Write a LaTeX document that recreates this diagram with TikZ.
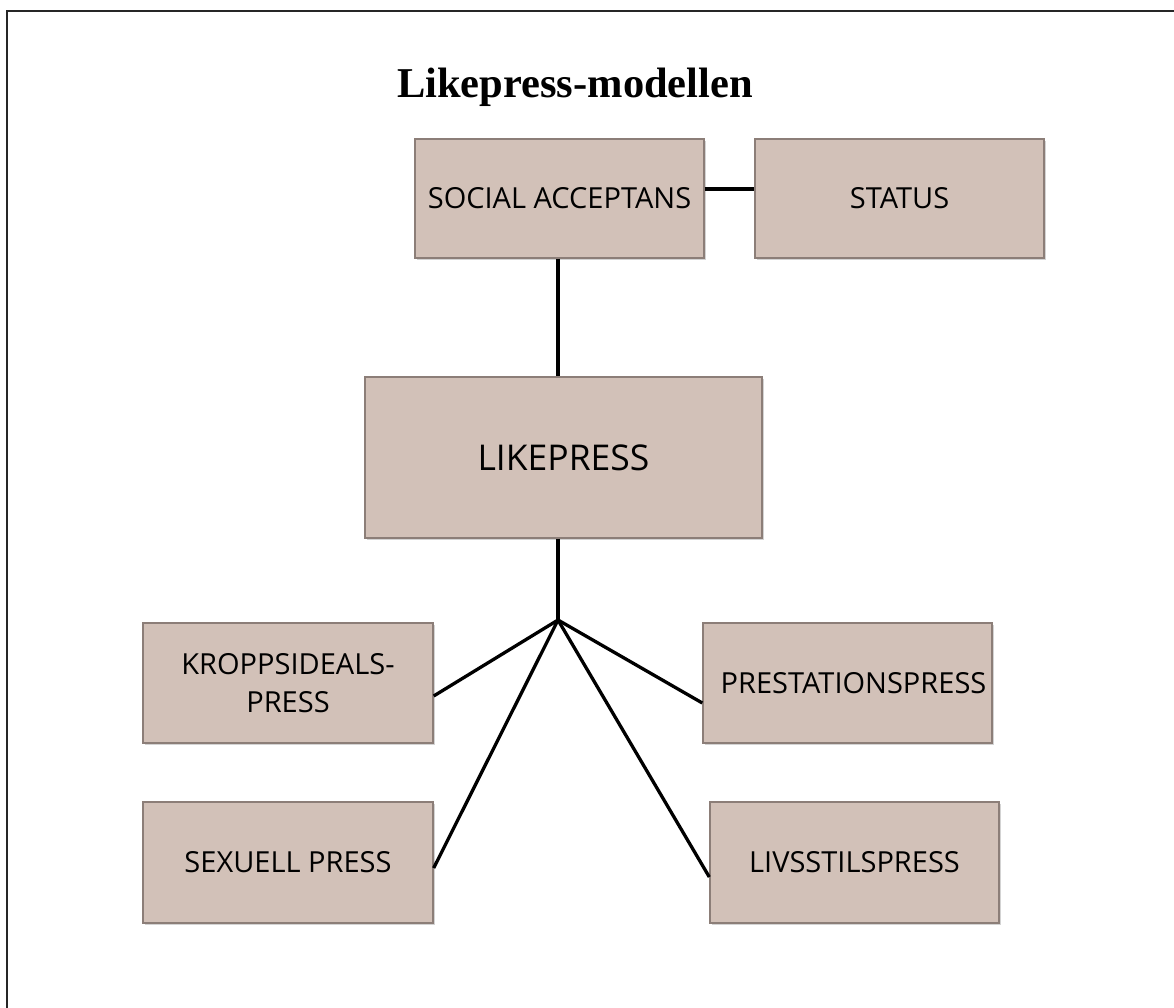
\documentclass[tikz,border=0pt]{standalone}
\usepackage{fontspec}
\setmainfont{Liberation Serif}
\setsansfont{Open Sans}
\usetikzlibrary{shadows}
\definecolor{boxfill}{RGB}{210,193,184}
\definecolor{boxedge}{RGB}{140,126,120}
\begin{document}
\begin{tikzpicture}[x=1pt,y=-1pt,
  pbox/.style={rectangle, fill=boxfill, draw=boxedge, line width=1.4pt,
    drop shadow={opacity=0.35, shadow xshift=2pt, shadow yshift=-2pt},
    inner sep=0pt, font=\sffamily\fontsize{29}{38}\selectfont, align=center},
  conn/.style={line width=3.3pt, black}]
\useasboundingbox (0,0) rectangle (1174,1008);
% frame (left and top edges)
\draw[line width=2.5pt, black!85] (7,1008) -- (7,11) -- (1174,11);
% title
\node[font=\bfseries\fontsize{42.5}{48}\selectfont, anchor=base] (title) at (575,98) {Likepress-modellen};
% boxes
\node[pbox, minimum width=289pt, minimum height=119pt] (sa) at (559.5,198.5) {SOCIAL ACCEPTANS};
\node[pbox, minimum width=289pt, minimum height=119pt] (st) at (899.5,198.5) {STATUS};
\node[pbox, minimum width=397pt, minimum height=161pt, font=\sffamily\fontsize{35.5}{42}\selectfont] (lp) at (563.5,457.5) {\raisebox{-5pt}{LIKEPRESS}};
\node[pbox, minimum width=290pt, minimum height=120pt] (kr) at (288,683) {KROPPSIDEALS-\\PRESS};
\node[pbox, minimum width=290pt, minimum height=121pt] (sx) at (288,862.5) {SEXUELL PRESS};
\node[pbox, minimum width=289pt, minimum height=120pt] (pr) at (847.5,683) {\hspace*{12pt}PRESTATIONSPRESS};
\node[pbox, minimum width=289pt, minimum height=121pt] (lv) at (854.5,862.5) {LIVSSTILSPRESS};
\coordinate (hub) at (558,620);
% connectors
\draw[conn] ([yshift=9.5pt]sa.east) -- ([yshift=9.5pt]st.west);
\draw[conn] (sa.south -| hub) -- (lp.north -| hub);
\draw[conn] (lp.south -| hub) -- (hub);
\draw[conn, line join=miter] (hub) -- ([yshift=-13pt]kr.east);
\draw[conn] (hub) -- ([yshift=-5.5pt]sx.east);
\draw[conn] (hub) -- ([yshift=-20pt]pr.west);
\draw[conn] (hub) -- ([yshift=-14.5pt]lv.west);
\end{tikzpicture}
\end{document}
